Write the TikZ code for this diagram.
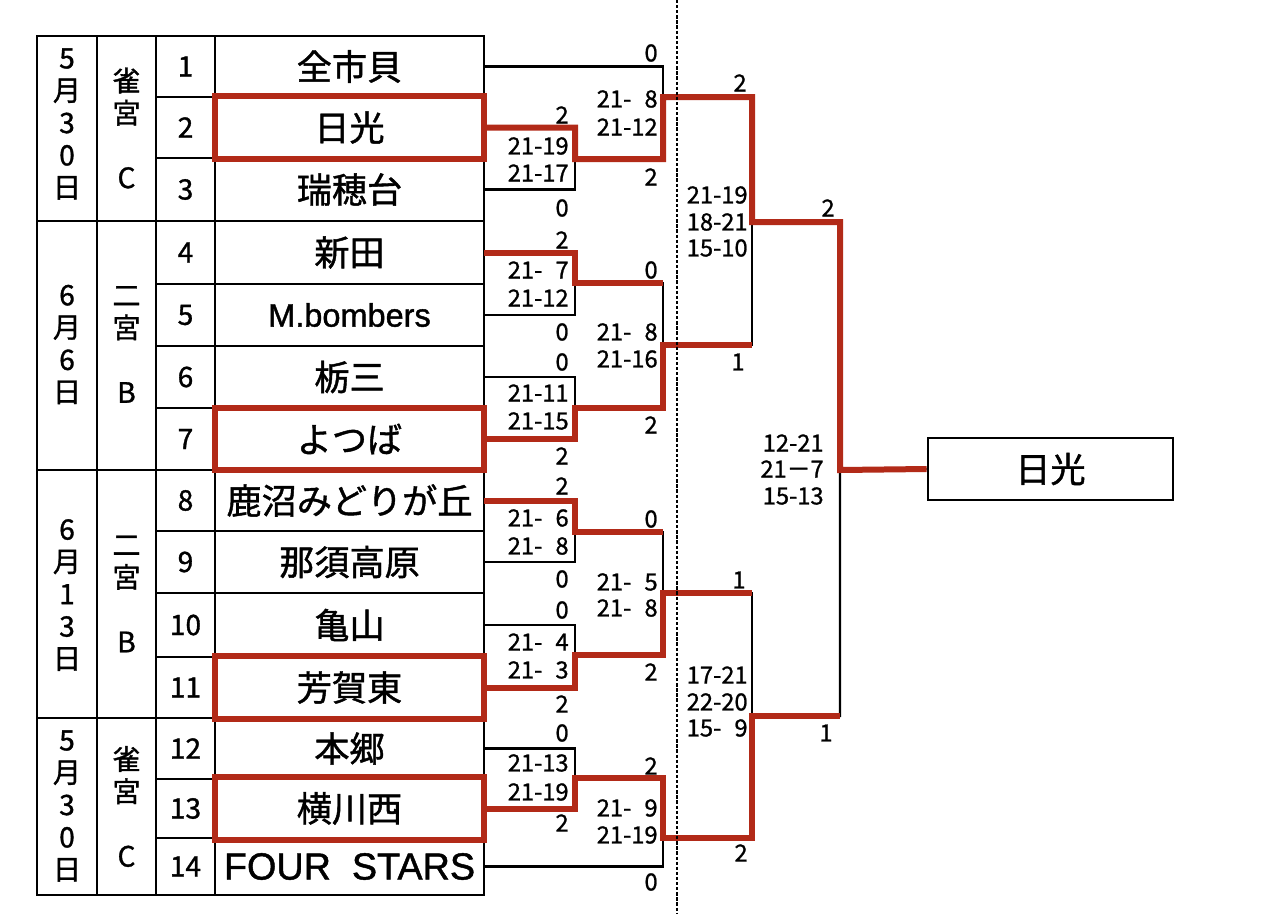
\documentclass[tikz,border=0pt]{standalone}
\usepackage{fontspec}
\setmainfont{Noto Sans CJK JP}[FakeBold=1.2]
\newfontfamily\jpfont{Noto Sans CJK JP}[FakeBold=1.2]
\newfontfamily\latinfont{Liberation Sans}[FakeBold=1.2]
\newfontfamily\scorefont{Noto Sans CJK JP}[FakeBold=1.0]
\usetikzlibrary{positioning}
\definecolor{winred}{RGB}{178,42,24}
\newcommand{\fs}{\hphantom{0}}

\begin{document}
\begin{tikzpicture}[x=0.02cm, y=-0.02cm,
  grid/.style={line width=0.055cm, line cap=rect},
  line/.style={line width=0.045cm},
  win/.style={line width=0.12cm, winred},
  team/.style={minimum width=5.38cm, minimum height=1.228cm, inner sep=0pt, font=\fontsize{20}{24}\selectfont},
  num/.style={font=\fontsize{16}{18}\selectfont},
  side/.style={align=center, inner sep=0pt, font=\fontsize{16}{18.4}\selectfont},
  score/.style={anchor=east, inner sep=0pt, font=\scorefont\fontsize{13.5}{15}\selectfont}]

\useasboundingbox (0,0) rectangle (1261,913);

\foreach \x in {37,97,156,215,484}
  \draw[grid] (\x,36) -- (\x,895);
\foreach \y in {97,158,284,346,408,531,593,657,779,838}
  \draw[grid] (156,\y) -- (484,\y);
\foreach \y in {36,221,470,718,895}
  \draw[grid] (37,\y) -- (484,\y);

\foreach \i/\y/\name in {1/66.5/全市貝, 2/127.5/日光, 3/189.5/瑞穂台, 4/252.5/新田,
    5/315/{\latinfont\fontsize{18.5}{22}\selectfont M.bombers}, 6/377/栃三, 7/439/よつば,
    8/500.5/鹿沼みどりが丘, 9/562/那須高原, 10/625/亀山, 11/687.5/芳賀東, 12/748.5/本郷,
    13/808.5/横川西, 14/866.5/{\latinfont\fontsize{21.5}{24}\selectfont FOUR~~STARS}} {
  \node[num] (n\i) at (185.5,\y) {\i};
  \node[team] (t\i) at (349.5,\y) {\name};
}

\node[side] (d1) at (67,124) {5\\月\\3\\0\\日};
\node[side] (v1) at (126.5,128) {雀\\宮\\[18.4pt]C};
\node[side] (d2) at (67,344.5) {6\\月\\6\\日};
\node[side] (v2) at (126.5,344.5) {二\\宮\\[18.4pt]B};
\node[side] (d3) at (67,595) {6\\月\\1\\3\\日};
\node[side] (v3) at (126.5,594) {二\\宮\\[18.4pt]B};
\node[side] (d4) at (67,806) {5\\月\\3\\0\\日};
\node[side] (v4) at (126.5,806.5) {雀\\宮\\[18.4pt]C};

\node[draw, line width=0.055cm, minimum width=4.9cm, minimum height=1.24cm,
  font=\fontsize{20}{24}\selectfont] (champ) at (1050.5,469) {日光};

\coordinate (a1) at (575,159);
\coordinate (a2) at (575,283);
\coordinate (a3) at (575,408);
\coordinate (a4) at (575,532);
\coordinate (a5) at (575,655);
\coordinate (a6) at (575,778);
\coordinate (b1) at (663,97);
\coordinate (b2) at (663,345);
\coordinate (b3) at (663,593);
\coordinate (b4) at (663,838);
\coordinate (c1) at (752,222);
\coordinate (c2) at (752,716);
\coordinate (fin) at (840,470);
\coordinate (dtop) at (677,0);
\coordinate (dbot) at (677,913);

\draw[line] (t1.east) -| (b1) (t2.east) -| (a1) (t3.east) -| (a1) (a1) -| (b1);
\draw[line] (t4.east) -| (a2) (t5.east) -| (a2) (t6.east) -| (a3) (t7.east) -| (a3);
\draw[line] (a2) -| (b2) (a3) -| (b2);
\draw[line] (t8.east) -| (a4) (t9.east) -| (a4) (t10.east) -| (a5) (t11.east) -| (a5);
\draw[line] (a4) -| (b3) (a5) -| (b3);
\draw[line] (t12.east) -| (a6) (t13.east) -| (a6) (a6) -| (b4) (t14.east) -| (b4);
\draw[line] (b1) -| (c1) (b2) -| (c1) (b3) -| (c2) (b4) -| (c2);
\draw[line] (c1) -| (fin) (c2) -| (fin) (fin) -- (champ.west);

\foreach \i in {2,7,11,13}
  \draw[win] (t\i.north west) rectangle (t\i.south east);
\draw[win] (t2.east) -| (a1) -| (b1) -| (c1) -| (fin) -- (champ.west);
\draw[win] (t4.east) -| (a2) -- (a2 -| b2);
\draw[win] (t7.east) -| (a3) -| (b2) -- (b2 -| c1);
\draw[win] (t8.east) -| (a4) -- (a4 -| b3);
\draw[win] (t11.east) -| (a5) -| (b3) -- (b3 -| c2);
\draw[win] (t13.east) -| (a6) -| (b4) -| (c2) -- (c2 -| fin);

\foreach \x/\y/\t [count=\k] in {
    569/115/2, 569/146/21-19, 569/173/21-17, 569/208/0,
    569/240/2, 569/270/21-\fs7, 569/298/21-12, 569/332/0,
    569/362/0, 569/393/21-11, 569/421/21-15, 569/456/2,
    569/486/2, 569/518/21-\fs6, 569/546/21-\fs8, 569/579/0,
    569/610/0, 569/642/21-\fs4, 569/670/21-\fs3, 569/704/2,
    569/733/0, 569/763/21-13, 569/792/21-19, 569/823/2,
    658/53/0, 658/99/21-\fs8, 658/127/21-12, 658/177/2,
    658/270/0, 658/332/21-\fs8, 658/359/21-16, 658/425/2,
    658/519/0, 658/582/21-\fs5, 658/608/21-\fs8, 658/672/2,
    658/766/2, 658/808/21-\fs9, 658/835/21-19, 658/882/0,
    747/83/2, 748/195/21-19, 748/222/18-21, 748/248/15-10, 745/362/1,
    746/580/1, 748/675/17-21, 748/702/22-20, 748/728/15-\fs9, 748/853/2,
    835/208/2, 824/443/12-21, 824/469/21{\jpfont －}7, 824/496/15-13, 833/733/1}
  \node[score] (s\k) at (\x,\y) {\t};

\draw[dash pattern=on 0.066cm off 0.036cm, line width=0.03cm] (dtop) -- (dbot);
\end{tikzpicture}
\end{document}
